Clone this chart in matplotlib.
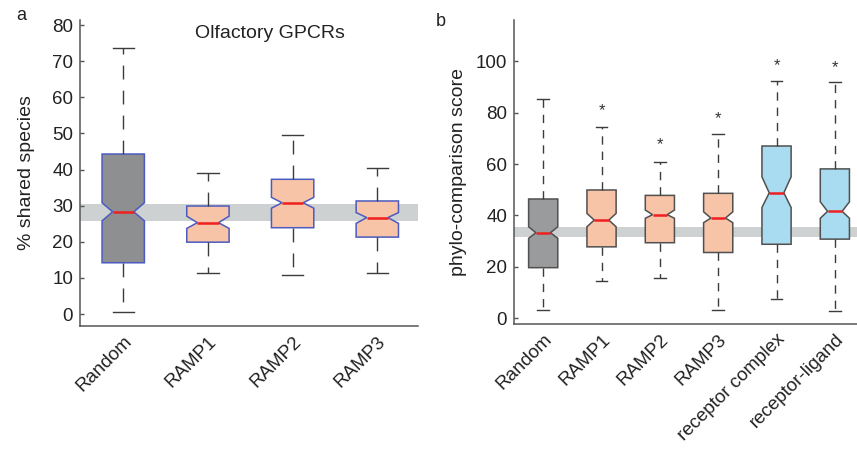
import numpy as np
import matplotlib
matplotlib.use("Agg")
import matplotlib.pyplot as plt

plt.rcParams['font.family'] = ['Liberation Sans', 'DejaVu Sans']
plt.rcParams['lines.scale_dashes'] = False

# panel a: olfactory GPCRs, % shared species
labels_a = ['Random', 'RAMP1', 'RAMP2', 'RAMP3']
lo_a = [0.5, 11.4, 10.7, 11.4]
q1_a = [14.2, 19.9, 23.9, 21.3]
med_a = [28.3, 25.3, 30.8, 26.7]
q3_a = [44.3, 29.9, 37.3, 31.3]
hi_a = [73.6, 39.0, 49.6, 40.5]
cilo_a = [25.8, 23.7, 29.3, 25.1]
cihi_a = [30.8, 27.1, 32.3, 28.1]
band_a = (25.7, 30.6)

# panel b: phylo-comparison score
labels_b = ['Random', 'RAMP1', 'RAMP2', 'RAMP3', 'receptor complex', 'receptor-ligand']
lo_b = [3.2, 14.5, 15.7, 3.2, 7.5, 2.7]
q1_b = [19.7, 27.8, 29.4, 25.6, 28.8, 30.8]
med_b = [33.3, 38.2, 40.3, 39.0, 48.8, 41.6]
q3_b = [46.4, 49.9, 47.8, 48.6, 67.0, 58.1]
hi_b = [85.1, 74.5, 60.6, 71.8, 92.2, 92.0]
cilo_b = [31.1, 35.6, 38.9, 37.2, 43.1, 38.9]
cihi_b = [35.6, 40.8, 42.1, 41.4, 55.0, 45.3]
stars_b = [np.nan, 80.6, 67.6, 77.7, 98.2, 97.4]
band_b = (31.5, 35.6)

grey = '#8e8f91'
peach = '#f8c4a8'
blue = '#a9dcf0'
colors_a = [grey, peach, peach, peach]
colors_b = ['#9a9b9d', peach, peach, peach, blue, blue]


def stats(labels, lo, q1, med, q3, hi, cilo, cihi):
    out = []
    for i in range(len(labels)):
        out.append(dict(label=labels[i], whislo=lo[i], q1=q1[i], med=med[i], q3=q3[i],
                        whishi=hi[i], cilo=cilo[i], cihi=cihi[i], fliers=[]))
    return out


def style(ax):
    for s in ['top', 'right']:
        ax.spines[s].set_visible(False)
    for s in ['left', 'bottom']:
        ax.spines[s].set_color('#555555')
        ax.spines[s].set_linewidth(1.1)
    ax.tick_params(axis='y', direction='in', length=3, width=1, color='#555555',
                   labelsize=13.5, labelcolor='#222222', pad=5)
    ax.tick_params(axis='x', length=0, labelsize=13.5, labelcolor='#222222', pad=5)


fig = plt.figure(figsize=(8.57, 4.51), dpi=100)

# ---- panel a
ax1 = fig.add_axes([0.0934, 0.2772, 0.3943, 0.6785])
pos_a = np.arange(1, len(labels_a) + 1)
ax1.axhspan(band_a[0], band_a[1], color='#cdd1d2', lw=0, zorder=0)
bp = ax1.bxp(stats(labels_a, lo_a, q1_a, med_a, q3_a, hi_a, cilo_a, cihi_a),
             positions=pos_a, widths=0.5, patch_artist=True, shownotches=True,
             showfliers=False,
             boxprops=dict(edgecolor='#4b5bbf', linewidth=1.1),
             medianprops=dict(color='#ee2020', linewidth=1.8),
             whiskerprops=dict(color='#3c3c3c', linewidth=1.0, linestyle=(0, (10, 8))),
             capprops=dict(color='#3c3c3c', linewidth=1.0))
for b, c in zip(bp['boxes'], colors_a):
    b.set_facecolor(c)
    b.set_zorder(2)
ax1.set_xlim(0.49, 4.48)
ax1.set_ylim(-3.3, 81.4)
ax1.set_yticks(np.arange(0, 81, 10))
ax1.set_xticks(pos_a, labels_a, rotation=45, ha='right', rotation_mode='anchor')
ax1.set_ylabel('% shared species', fontsize=14, color='#222222', labelpad=12)
style(ax1)
ax1.text(0.562, 0.955, 'Olfactory GPCRs', transform=ax1.transAxes, ha='center', va='center',
         fontsize=14, color='#222222')

# ---- panel b
ax2 = fig.add_axes([0.5998, 0.2816, 0.4084, 0.6741])
pos_b = np.arange(1, len(labels_b) + 1)
ax2.axhspan(band_b[0], band_b[1], color='#cdd1d2', lw=0, zorder=0)
bp2 = ax2.bxp(stats(labels_b, lo_b, q1_b, med_b, q3_b, hi_b, cilo_b, cihi_b),
              positions=pos_b, widths=0.5, patch_artist=True, shownotches=True,
              showfliers=False, capwidths=0.2,
              boxprops=dict(edgecolor='#505050', linewidth=1.1),
              medianprops=dict(color='#ee2020', linewidth=1.8),
              whiskerprops=dict(color='#3c3c3c', linewidth=1.0, linestyle=(0, (6, 5))),
              capprops=dict(color='#3c3c3c', linewidth=1.0))
for b, c in zip(bp2['boxes'], colors_b):
    b.set_facecolor(c)
    b.set_zorder(2)
for p, s in zip(pos_b, stars_b):
    if not np.isnan(s):
        ax2.text(p, s, '*', ha='center', va='center', fontsize=12, color='#333333')
ax2.set_xlim(0.5, 6.5)
ax2.set_ylim(-2.2, 116)
ax2.set_yticks(np.arange(0, 101, 20))
ax2.set_xticks(pos_b, labels_b, rotation=45, ha='right', rotation_mode='anchor')
ax2.set_ylabel('phylo-comparison score', fontsize=14, color='#222222', labelpad=6)
style(ax2)

fig.text(21 / 857, 1 - 16 / 451, 'a', fontsize=13, color='#222222', ha='center', va='center')
fig.text(441 / 857, 1 - 21 / 451, 'b', fontsize=13, color='#222222', ha='center', va='center')

fig.savefig('out.png', dpi=100)
